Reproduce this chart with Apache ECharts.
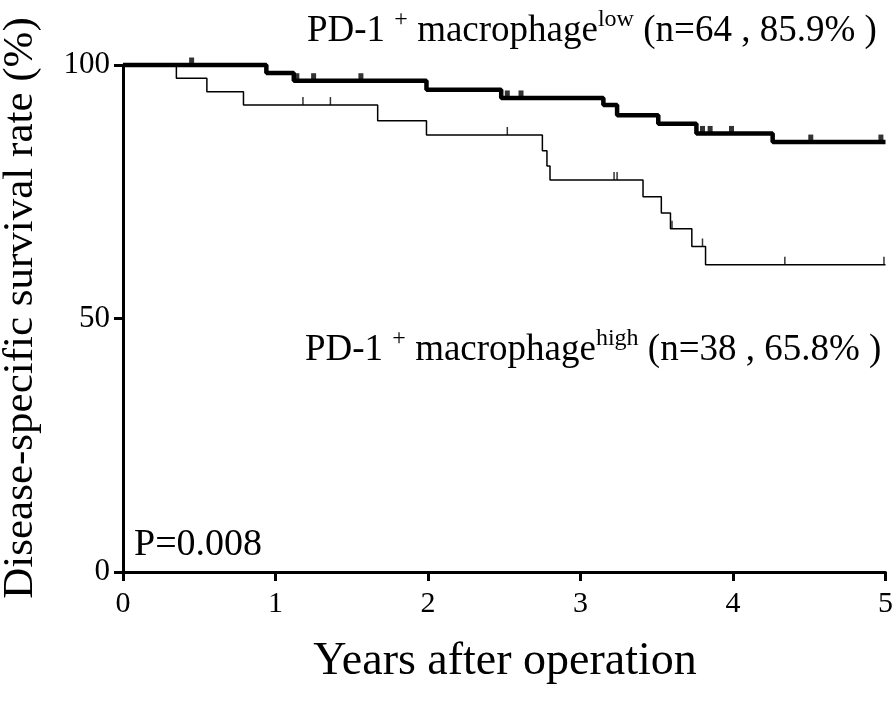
<!DOCTYPE html>
<html>
<head>
<meta charset="utf-8">
<script src="https://cdn.jsdelivr.net/npm/echarts@6/dist/echarts.min.js"></script>
<style>html,body{margin:0;padding:0;background:#fff;}#c{width:896px;height:714px;}</style>
</head>
<body>
<div id="c"></div>
<script>
// Years after operation (event times) and survival (%) after each step
var lowTimes = [0, 0.94, 1.12, 1.99, 2.48, 3.15, 3.24, 3.51, 3.76, 4.26, 5];
var lowSurv  = [100, 98.4, 96.9, 95.1, 93.5, 92.1, 90.1, 88.4, 86.5, 84.8, 84.8];
var lowCensor = [0.45, 1.14, 1.25, 1.56, 2.52, 2.61, 3.80, 3.85, 3.99, 4.51, 4.97];

var highTimes = [0, 0.35, 0.55, 0.79, 1.67, 1.99, 2.75, 2.78, 2.80, 3.41, 3.53, 3.59, 3.73, 3.82, 5];
var highSurv  = [100, 97.4, 94.7, 92.1, 89.0, 86.2, 83.1, 80.1, 77.3, 74.0, 70.8, 67.7, 64.2, 60.6, 60.6];
var highCensor = [1.18, 1.36, 2.52, 3.22, 3.24, 3.60, 3.80, 4.34, 4.99];

var xTicks = [0, 1, 2, 3, 4, 5];
var yTicks = [0, 50, 100];

var FONT = '"Liberation Serif", "Times New Roman", serif';

function pairs(t, s) { return t.map(function (v, i) { return [v, s[i]]; }); }
function survAt(t, s, x) { var v = s[0]; for (var i = 0; i < t.length; i++) { if (t[i] <= x) v = s[i]; } return v; }
function censorPts(ct, t, s) { return ct.map(function (x) { return [x, survAt(t, s, x)]; }); }

var chart = echarts.init(document.getElementById('c'), null, {renderer: 'canvas'});
chart.setOption({
  backgroundColor: '#fff',
  animation: false,
  grid: {left: 123, right: 10, top: 65, bottom: 142, containLabel: false},
  xAxis: {
    type: 'value', min: 0, max: 5, interval: 1,
    axisLine: {show: true, lineStyle: {color: '#000', width: 3}},
    axisTick: {show: true, inside: false, length: 9, lineStyle: {color: '#000', width: 3}},
    axisLabel: {color: '#000', fontFamily: FONT, fontSize: 30, margin: 17,
      formatter: function (v) { return xTicks.indexOf(v) >= 0 ? String(v) : ''; }},
    splitLine: {show: false}
  },
  yAxis: {
    type: 'value', min: 0, max: 100, interval: 50,
    axisLine: {show: true, lineStyle: {color: '#000', width: 3}},
    axisTick: {show: true, inside: false, length: 9, lineStyle: {color: '#000', width: 3}},
    axisLabel: {color: '#000', fontFamily: FONT, fontSize: 31, margin: 13,
      formatter: function (v) { return yTicks.indexOf(v) >= 0 ? String(v) : ''; }},
    splitLine: {show: false}
  },
  series: [
    {type: 'line', step: 'end', data: pairs(highTimes, highSurv), showSymbol: false,
     lineStyle: {color: '#000', width: 1.5}, clip: false, z: 3},
    {type: 'line', step: 'end', data: pairs(lowTimes, lowSurv), showSymbol: false,
     lineStyle: {color: '#000', width: 4.5}, clip: false, z: 4},
    {type: 'scatter', data: censorPts(highCensor, highTimes, highSurv), symbol: 'rect',
     symbolSize: [1.5, 8], symbolOffset: [0, -4], itemStyle: {color: '#000'}, z: 5},
    {type: 'scatter', data: censorPts(lowCensor, lowTimes, lowSurv), symbol: 'rect',
     symbolSize: [5, 9], symbolOffset: [0, -3], itemStyle: {color: '#000'}, z: 5}
  ],
  graphic: [
    {type: 'text', left: 307, top: 8, z: 10, style: {
      text: '{a|PD-1 }{s|+}{a| macrophage}{s|low}{a| (n=64 , 85.9% )}',
      rich: {a: {fontFamily: FONT, fontSize: 37, fill: '#000', lineHeight: 46},
             s: {fontFamily: FONT, fontSize: 24, fill: '#000', verticalAlign: 'top', lineHeight: 46, padding: [0,0,16,0]}}
    }},
    {type: 'text', left: 305, top: 327, z: 10, style: {
      text: '{a|PD-1 }{s|+}{a| macrophage}{s|high}{a| (n=38 , 65.8% )}',
      rich: {a: {fontFamily: FONT, fontSize: 37, fill: '#000', lineHeight: 46},
             s: {fontFamily: FONT, fontSize: 24, fill: '#000', verticalAlign: 'top', lineHeight: 46, padding: [0,0,16,0]}}
    }},
    {type: 'text', x: 134, y: 545, z: 10, style: {
      text: 'P=0.008', fontFamily: FONT, fontSize: 38, fill: '#000', textAlign: 'left', textVerticalAlign: 'middle'}},
    {type: 'text', x: 505, y: 662, z: 10, style: {
      text: 'Years after operation', fontFamily: FONT, fontSize: 46, fill: '#000', textAlign: 'center', textVerticalAlign: 'middle'}},
    {type: 'text', x: 21, y: 308, rotation: Math.PI / 2, z: 10, style: {
      text: 'Disease-specific survival rate (%)', fontFamily: FONT, fontSize: 43, fill: '#000', textAlign: 'center', textVerticalAlign: 'middle'}}
  ]
});
</script>
</body>
</html>
